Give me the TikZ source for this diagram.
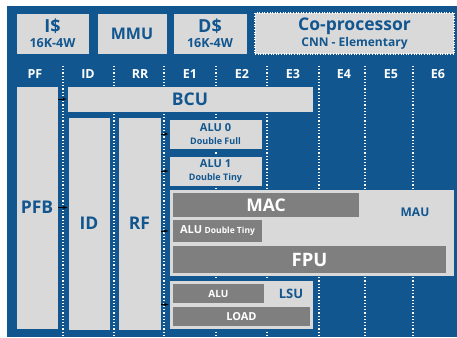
\documentclass[tikz,border=0pt]{standalone}
\usepackage{fontspec}
\setmainfont{Open Sans}
\definecolor{cpublue}{HTML}{12568F}
\definecolor{lightbox}{HTML}{D9D9D9}
\definecolor{darkbox}{HTML}{7F7F7F}
\begin{document}
\begin{tikzpicture}[
  x=1pt, y=-1pt,
  unit/.style={fill=lightbox, draw=cpublue, line width=0.6pt, inner sep=0pt, align=center, text=cpublue, font=\bfseries},
  subunit/.style={fill=darkbox, inner sep=0pt, align=center, text=white, font=\bfseries},
  stage/.style={text=white, font=\bfseries\fontsize{12.5}{12.5}\selectfont},
  sep/.style={white, dotted, line width=1.2pt},
  arr/.style={-latex, black, line width=0.5pt}
]
\useasboundingbox (0,0) rectangle (457,337);
\fill[cpublue] (7,6) rectangle (457,337);

% pipeline stage separators
\foreach \x in {63,114,164,216,267,319,365,413}
  \draw[sep] (\x,66) -- (\x,337);

% stage names
\foreach \x/\s in {35/PF,88/ID,140/RR,190/E1,242/E2,293/E3,344/E4,391/E5,438/E6}
  \node[stage] at (\x,74) {\s};

% memory side
\node[unit, minimum width=73pt, minimum height=41pt] (icache) at (52.5,33.5)
  {{\fontsize{18}{18}\selectfont I\$}\\[3pt]{\fontsize{12.5}{12.5}\selectfont 16K-4W}};
\node[unit, minimum width=70pt, minimum height=41pt, font=\bfseries\fontsize{16}{16}\selectfont] (mmu) at (132,33.5) {MMU};
\node[unit, minimum width=74pt, minimum height=41pt] (dcache) at (210,33.5)
  {{\fontsize{18}{18}\selectfont D\$}\\[3pt]{\fontsize{12.5}{12.5}\selectfont 16K-4W}};
\node[unit, draw=white, dotted, line width=1.2pt, minimum width=199pt, minimum height=41pt] (coproc) at (354.5,33.5)
  {{\fontsize{17.5}{17.5}\selectfont Co-processor}\\[2pt]{\fontsize{12}{12}\selectfont CNN - Elementary}};

% front end
\node[unit, minimum width=42pt, minimum height=243pt, font=\bfseries\fontsize{17.5}{17.5}\selectfont] (pfb) at (37,207.5) {PFB};
\node[unit, minimum width=246pt, minimum height=26pt, font=\bfseries\fontsize{17.5}{17.5}\selectfont] (bcu) at (190,99) {BCU};
\node[unit, minimum width=42pt, minimum height=213pt, font=\bfseries\fontsize{17.5}{17.5}\selectfont] (id) at (89,223.5) {ID};
\node[unit, minimum width=43pt, minimum height=213pt, font=\bfseries\fontsize{17.5}{17.5}\selectfont] (rf) at (139.5,223.5) {RF};

% execution units
\node[unit, minimum width=93pt, minimum height=30pt] (alu0) at (215.5,134)
  {{\fontsize{11}{11}\selectfont ALU 0}\\[1pt]{\fontsize{9}{9}\selectfont Double Full}};
\node[unit, minimum width=93pt, minimum height=30pt] (alu1) at (215.5,171)
  {{\fontsize{11}{11}\selectfont ALU 1}\\[1pt]{\fontsize{9}{9}\selectfont Double Tiny}};

\node[unit, minimum width=285pt, minimum height=87pt] (mau) at (311.5,232.5) {};
\node[text=cpublue, font=\bfseries\fontsize{12}{12}\selectfont] (maulabel) at (415,212) {MAU};
\node[subunit, minimum width=186pt, minimum height=24pt, font=\bfseries\fontsize{17.5}{17.5}\selectfont] (mac) at (266,205) {MAC};
\node[subunit, minimum width=89pt, minimum height=22pt] (alutiny) at (217.5,231)
  {{\fontsize{11}{11}\selectfont ALU} {\fontsize{8.5}{8.5}\selectfont Double Tiny}};
\node[subunit, minimum width=273pt, minimum height=27pt, font=\bfseries\fontsize{18.5}{18.5}\selectfont] (fpu) at (309.5,259.5) {FPU};

\node[unit, minimum width=144pt, minimum height=49pt] (lsu) at (241,304.5) {};
\node[text=cpublue, font=\bfseries\fontsize{13}{13}\selectfont] (lsulabel) at (291,294) {LSU};
\node[subunit, minimum width=91pt, minimum height=19pt, font=\bfseries\fontsize{10}{10}\selectfont] (alulsu) at (218.5,293.5) {ALU};
\node[subunit, minimum width=137pt, minimum height=19pt, font=\bfseries\fontsize{11}{11}\selectfont] (load) at (241.5,316.5) {LOAD};

% issue arrows
\draw[arr] (pfb.east |- bcu) -- (bcu.west);
\draw[arr] (pfb.east) -- (pfb.east -| id.west);
\draw[arr] (rf.east |- alu0) -- (alu0.west);
\draw[arr] (rf.east |- alu1) -- (alu1.west);
\draw[arr] (rf.east |- alutiny) -- (mau.west |- alutiny);
\draw[arr] (rf.east |- lsu) -- (lsu.west);
\end{tikzpicture}
\end{document}
